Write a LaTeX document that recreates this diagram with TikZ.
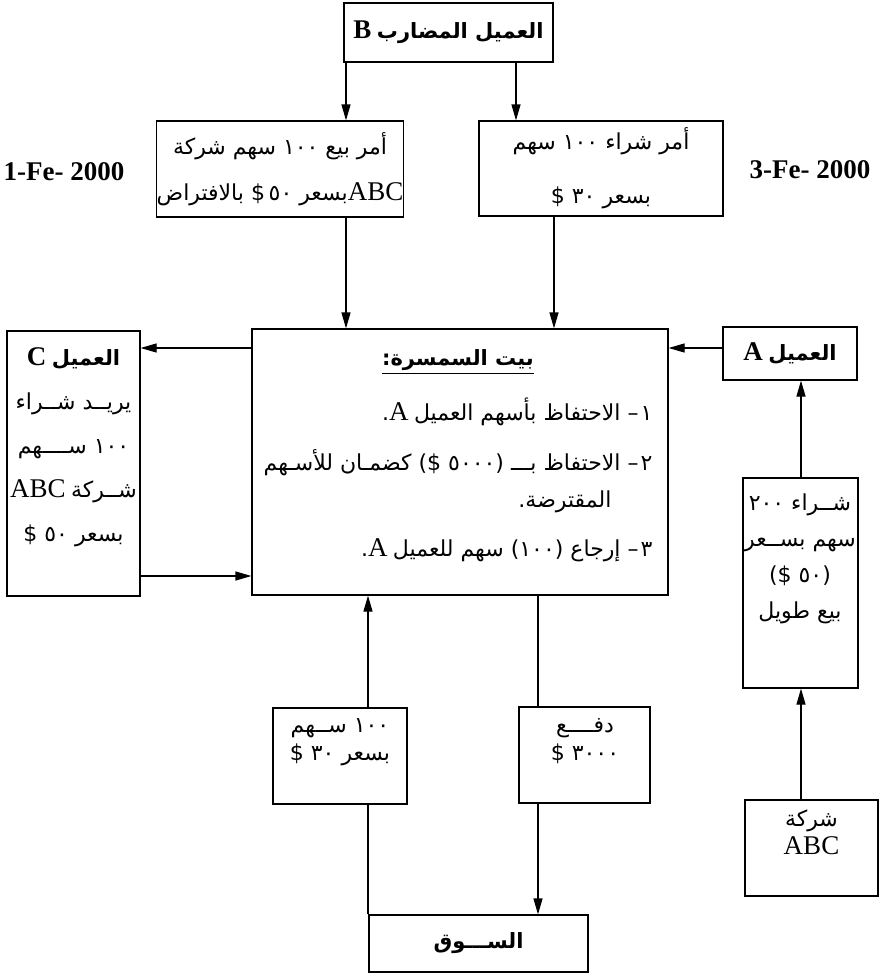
\documentclass[tikz,border=0pt]{standalone}
\usepackage{fontspec}
\setmainfont{Liberation Serif}
\newfontfamily\arabicfont[Script=Arabic]{DejaVu Sans}
\TeXXeTstate=1
\usetikzlibrary{arrows.meta}

\newcommand{\ar}[1]{{\arabicfont #1}}
\newcommand{\arb}[1]{{\arabicfont\bfseries\fontsize{10.5}{14}\selectfont #1}}
\newcommand{\RL}[1]{\beginR #1\endR}
\newcommand{\lat}[1]{{\fontsize{13.5}{16}\selectfont #1}}

\tikzset{
  box/.style={draw, line width=0.6pt, inner sep=0pt, align=center},
  sz/.style 2 args={minimum width=#1*0.5pt, minimum height=#2*0.5pt},
  txt/.style={inner sep=0pt, align=center},
  arr/.style={-{Triangle[length=8pt,width=4.5pt]}},
}

\begin{document}
\begin{tikzpicture}[x=0.5pt,y=-0.5pt,line width=0.6pt,font=\fontsize{11}{14}\selectfont]
\useasboundingbox (0,0) rectangle (881,975);

\coordinate (xl) at (346,0);
\coordinate (xm) at (516,0);
\coordinate (xn) at (554,0);
\coordinate (xr) at (801,0);
\coordinate (xs) at (368,0);
\coordinate (xp) at (538,0);
\coordinate (yt) at (0,348);
\coordinate (yb) at (0,576);

% dates
\node[txt] (date1) at (64,172) {\lat{\textbf{1-Fe- 2000}}};
\node[txt] (date3) at (810,170) {\lat{\textbf{3-Fe- 2000}}};

% boxes
\node[box,sz={209}{59}] (Bclient) at (448.5,32.5) {\RL{\arb{العميل المضارب} \lat{\textbf{B}}}};
\node[box,sz={246}{96}] (sell) at (280,169)
  {\RL{\ar{أمر بيع ١٠٠ سهم شركة}}\\[9pt]\RL{\lat{ABC}\ar{بسعر ٥٠\,\$ بالافتراض}}};
\node[box,sz={244}{95}] (buy) at (601,168.5)
  {\RL{\ar{أمر شراء ١٠٠ سهم}}\\[13pt]\RL{\ar{بسعر ٣٠ \$}}};
\node[box,sz={416}{266}] (broker) at (460,462) {};
\node[box,sz={133}{265}] (Cclient) at (73.5,463.5) {};
\node[box,sz={134}{53}] (Aclient) at (790,353.5) {\RL{\arb{العميل} \lat{\textbf{A}}}};
\node[box,sz={115}{210}] (longbuy) at (800.5,583) {};
\node[box,sz={133}{96}] (company) at (811.5,848) {};
\node[box,sz={134}{96}] (shares) at (340,756) {};
\node[box,sz={131}{96}] (pay) at (584.5,755) {};
\node[box,sz={219}{57}] (market) at (478.5,943.5) {\RL{\arb{الســـوق}}};

% texts inside the boxes
\node[txt] (title) at (458,362) {\underline{\RL{\arb{بيت السمسرة:}}}};
\node[txt,anchor=east] (item1) at (653,412) {\RL{\ar{١\kern1pt– الاحتفاظ بأسهم العميل} \lat{A}\ar{.}}};
\node[txt,anchor=east] (item2) at (653,463)
  {\RL{\ar{٢\kern1pt– الاحتفاظ بـــ (٥٠٠٠ \$) كضمـان للأسـهم}}};
\node[txt,anchor=east] (item2b) at (612,502) {\RL{\ar{المقترضة.}}};
\node[txt,anchor=east] (item3) at (653,550) {\RL{\ar{٣\kern1pt– إرجاع (١٠٠) سهم للعميل} \lat{A}\ar{.}}};

\node[txt,anchor=north] (Ctext) at (73.5,347)
  {\RL{\arb{العميل} \lat{\textbf{C}}}\\[8pt]\RL{\ar{يريــد شــراء}}\\[8pt]\RL{\ar{١٠٠ ســــهم}}\\[8pt]%
   \RL{\ar{شــركة} \lat{ABC}}\\[8pt]\RL{\ar{بسعر ٥٠ \$}}};
\node[txt,anchor=north] (longtext) at (800,493)
  {\RL{\ar{شــراء ٢٠٠}}\\[4pt]\RL{\ar{سهم بســعر}}\\[4pt]\RL{\ar{(٥٠ \$)}}\\[4pt]\RL{\ar{بيع طويل}}};
\node[txt,anchor=north] (comptext) at (811.5,809) {\RL{\ar{شركة}}\\\lat{ABC}};
\node[txt,anchor=north] (sharetext) at (340,718) {\RL{\ar{١٠٠ ســهم}}\\\RL{\ar{بسعر ٣٠ \$}}};
\node[txt,anchor=north] (paytext) at (585,718) {\RL{\ar{دفــــع}}\\\RL{\ar{٣٠٠٠ \$}}};

% connectors
\draw[arr] (Bclient.south -| xl) -- (sell.north -| xl);
\draw[arr] (Bclient.south -| xm) -- (buy.north -| xm);
\draw[arr] (sell.south -| xl) -- (broker.north -| xl);
\draw[arr] (buy.south -| xn) -- (broker.north -| xn);
\draw[arr] (Aclient.west |- yt) -- (broker.east |- yt);
\draw[arr] (broker.west |- yt) -- (Cclient.east |- yt);
\draw[arr] (Cclient.east |- yb) -- (broker.west |- yb);
\draw[arr] (longbuy.north -| xr) -- (Aclient.south -| xr);
\draw[arr] (company.north -| xr) -- (longbuy.south -| xr);
\draw (market.north -| xs) -- (shares.south -| xs);
\draw[arr] (shares.north -| xs) -- (broker.south -| xs);
\draw (broker.south -| xp) -- (pay.north -| xp);
\draw[arr] (pay.south -| xp) -- (market.north -| xp);

\end{tikzpicture}
\end{document}
